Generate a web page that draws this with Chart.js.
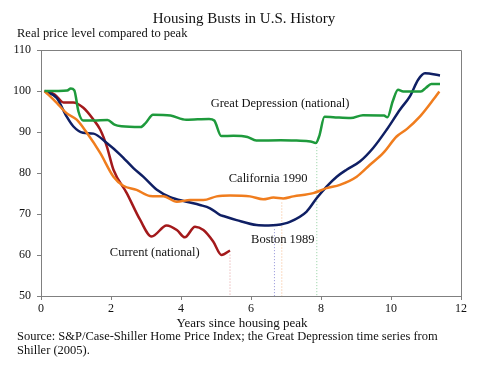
<!DOCTYPE html>
<html>
<head>
<meta charset="utf-8">
<script src="https://cdn.jsdelivr.net/npm/chart.js@4/dist/chart.umd.min.js"></script>
<style>
  html, body { margin: 0; padding: 0; background: #ffffff; }
  #wrap { position: relative; width: 500px; height: 370px; }
</style>
</head>
<body>
<div id="wrap"><canvas id="c" width="500" height="370"></canvas></div>
<script>
// ---- Data ----
const greatDepressionX = [0.1,0.5,0.75,0.85,0.95,1.07,1.2,1.5,1.9,2.1,2.3,2.85,3.0,3.2,3.7,4.15,4.8,4.95,5.15,5.5,5.9,6.15,6.85,7.3,7.7,7.85,7.95,8.1,8.35,8.85,9.2,9.8,9.9,10.05,10.2,10.35,10.85,11.0,11.15,11.4];
const greatDepressionY = [100,100,100.1,100.6,100.2,95,92.8,92.8,92.9,91.8,91.4,91.2,92.3,94.2,94,93,93.2,92.8,89,89.1,88.8,87.9,88,87.9,87.7,87.3,89,93.7,93.6,93.4,94.1,94,93.6,97.5,100.3,99.9,99.9,100.8,101.7,101.7];

const bostonX = [0.1,0.45,0.73,0.92,1.2,1.5,1.88,2.26,2.64,2.92,3.31,3.69,4.16,4.54,4.83,5.11,5.21,5.59,6.16,6.5,6.73,7.11,7.59,7.88,8.16,8.45,8.73,9.11,9.49,9.88,10.26,10.54,10.78,10.97,11.4];
const bostonY = [100,98.3,93.8,91.4,89.8,89.6,87.3,84.5,81.2,79.1,75.9,74.1,73,72.2,71.4,69.8,69.5,68.5,67.3,67.2,67.3,68.1,70.6,73.9,76.7,79.1,80.8,82.8,86.1,90.6,95.5,98.7,102.8,104.3,103.8];

const californiaX = [0.1,0.45,0.73,1.02,1.31,1.69,2.07,2.35,2.73,3.11,3.5,3.88,4.26,4.64,5.02,5.4,5.97,6.35,6.64,6.92,7.21,7.78,8.16,8.54,9.02,9.4,9.78,10.16,10.45,10.83,11.21,11.38];
const californiaY = [100,97.1,94.6,93,89.8,84.9,79.1,76.9,75.9,74.4,74.3,73,73.4,73.4,74.3,74.5,74.3,73.6,74,73.8,74.3,75.1,76.3,77.1,79.1,82,84.9,88.9,90.7,93.8,97.9,99.9];

const currentX = [0.1,0.4,0.64,0.92,1.21,1.5,1.69,1.88,2.07,2.45,2.83,3.16,3.59,3.88,4.11,4.4,4.64,4.92,5.16,5.4];
const currentY = [100,99.1,97.2,97.2,95.9,93,90.6,86.5,80.8,75.1,68.6,64.5,67.2,66.1,64.3,66.9,66.1,63.3,60,61.1];

// trough markers (dotted drop lines): Current, Boston, California, Great Depression
const troughX = [5.4, 6.67, 6.88, 7.88];
const troughY = [61.1, 67.3, 73.8, 87.3];

const xTicks = [0, 2, 4, 6, 8, 10, 12];
const yTicks = [50, 60, 70, 80, 90, 100, 110];

const seriesLabels = ["Great Depression (national)", "California 1990", "Boston 1989", "Current (national)"];
const labelX = [6.83, 6.49, 6.91, 3.25];
const labelY = [96.9, 78.7, 63.7, 60.5];

const titleText = "Housing Busts in U.S. History";
const yTitleText = "Real price level compared to peak";
const xTitleText = "Years since housing peak";
const sourceLines = ["Source: S&P/Case-Shiller Home Price Index; the Great Depression time series from", "Shiller (2005)."];

// ---- Build chart ----
const FONT = "'Liberation Serif', 'Times New Roman', serif";
const zip = (xs, ys) => xs.map((x, i) => ({ x: x, y: ys[i] }));

const colGreen = '#1e9a3c', colBlue = '#0f1f64', colOrange = '#f07d1e', colRed = '#a3191b';
const dotCols = ['#e09a9a', '#8f8fd8', '#f5b98a', '#8fd09e'];

const lineDs = (label, data, color) => ({
  label, data, borderColor: color, backgroundColor: color, borderWidth: 2.5,
  pointRadius: 0, fill: false, cubicInterpolationMode: 'monotone', order: 1
});

const dropDs = troughX.map((x, i) => ({
  label: 'drop' + i,
  data: [{ x: x, y: troughY[i] - 1 }, { x: x, y: 50 }],
  borderColor: dotCols[i], borderWidth: 1, borderDash: [1, 2], pointRadius: 0, fill: false, order: 2
}));

const textPlugin = {
  id: 'texts',
  afterDraw(chart) {
    const ctx = chart.ctx, a = chart.chartArea;
    const xs = chart.scales.x, ys = chart.scales.y;
    ctx.save();
    // frame (top & right)
    ctx.strokeStyle = '#808080'; ctx.lineWidth = 1;
    ctx.beginPath();
    ctx.moveTo(a.left, a.top + 0.5); ctx.lineTo(a.right + 0.5, a.top + 0.5); ctx.lineTo(a.right + 0.5, a.bottom);
    ctx.stroke();
    ctx.fillStyle = '#111';
    ctx.textBaseline = 'middle';
    ctx.font = '15px ' + FONT; ctx.textAlign = 'center';
    ctx.fillText(titleText, 244, 19);
    ctx.font = '12.5px ' + FONT; ctx.textAlign = 'left';
    ctx.fillText(yTitleText, 17, 34);
    ctx.font = '13px ' + FONT; ctx.textAlign = 'center';
    ctx.fillText(xTitleText, 242, 324);
    ctx.font = '12.5px ' + FONT; ctx.textAlign = 'left';
    ctx.fillText(sourceLines[0], 17, 337);
    ctx.fillText(sourceLines[1], 17, 351);
    ctx.font = '12.5px ' + FONT; ctx.textAlign = 'center';
    seriesLabels.forEach((t, i) => {
      ctx.fillText(t, xs.getPixelForValue(labelX[i]), ys.getPixelForValue(labelY[i]));
    });
    ctx.restore();
  }
};

new Chart(document.getElementById('c'), {
  type: 'line',
  data: {
    datasets: [
      lineDs('Great Depression (national)', zip(greatDepressionX, greatDepressionY), colGreen),
      lineDs('California 1990', zip(californiaX, californiaY), colOrange),
      lineDs('Boston 1989', zip(bostonX, bostonY), colBlue),
      lineDs('Current (national)', zip(currentX, currentY), colRed),
      ...dropDs
    ]
  },
  options: {
    responsive: false, animation: false,
    layout: { padding: { top: 50, right: 39, left: 0, bottom: 0 } },
    plugins: { legend: { display: false }, title: { display: false }, tooltip: { enabled: false } },
    scales: {
      x: {
        type: 'linear', min: 0, max: 12,
        afterFit(s) { s.height = 74; },
        afterBuildTicks(s) { s.ticks = xTicks.map(v => ({ value: v })); },
        grid: { display: true, drawOnChartArea: false, drawTicks: true, tickLength: 4, color: '#808080' },
        border: { display: true, color: '#808080' },
        ticks: { color: '#111', padding: 2, font: { family: FONT, size: 12 }, maxRotation: 0 }
      },
      y: {
        type: 'linear', min: 50, max: 110,
        afterFit(s) { s.width = 41; },
        afterBuildTicks(s) { s.ticks = yTicks.map(v => ({ value: v })); },
        grid: { display: true, drawOnChartArea: false, drawTicks: true, tickLength: 4, color: '#808080' },
        border: { display: true, color: '#808080' },
        ticks: { color: '#111', padding: 6, font: { family: FONT, size: 12 } }
      }
    }
  },
  plugins: [textPlugin]
});
</script>
</body>
</html>
